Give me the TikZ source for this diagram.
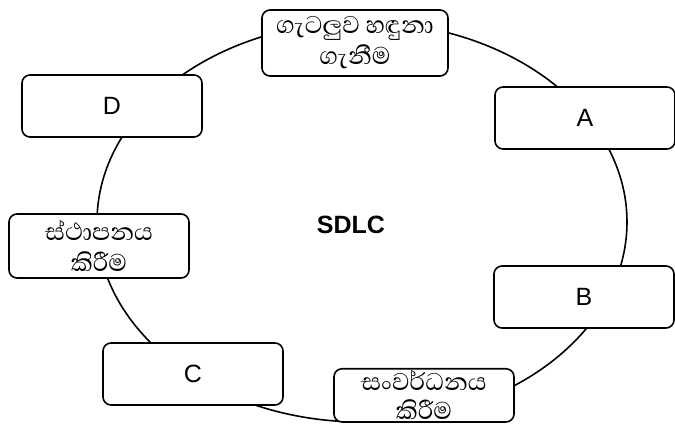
\documentclass[tikz,border=0pt]{standalone}
\usepackage{fontspec}
\usepackage{tikz}
\usetikzlibrary{calc}
\usetikzlibrary{positioning}
\setmainfont{Liberation Sans}
\newfontfamily\sinhala[Script=Sinhala]{Abhaya Libre}
\tikzset{
    phase/.style={draw=black, fill=white, line width=1.6pt, rounded corners=8pt,
                  minimum width=180pt, minimum height=62pt, align=center,
                  font=\fontsize{25}{25}\selectfont, inner sep=2pt},
    sphase/.style={phase, inner sep=0pt, font=\sinhala\fontsize{31}{31}\selectfont}
}

\begin{document}
\begin{tikzpicture}[x=1pt, y=-1pt]
            % Frame to ensure alignment:
            \useasboundingbox                                                 (0, 0) rectangle (675, 430);
            % Cycle
            \draw[line width=1.6pt]                                           (362, 222) ellipse [x radius=265pt, y radius=200pt];
            % Phases
            \node[sphase, minimum width=186pt, minimum height=66pt] (ident) at (355,  43) {ගැටලුව හඳුනා\\ගැනීම};
            \node[phase]                                            (A)     at (585, 118) {A};
            \node[phase]                                            (B)     at (584, 297) {B};
            \node[sphase, anchor=north, minimum height=0pt,
                  inner ysep=2pt, font=\sinhala\fontsize{31}{29}\selectfont]
                                                                    (devel) at (424, 368) {සංවර්ධනය\\කිරීම};
            \node[phase]                                            (C)     at (193, 374) {C};
            \node[sphase, minimum height=64pt]                      (inst)  at ( 99, 246) {ස්ථාපනය\\කිරීම};
            \node[phase]                                            (D)     at (112, 106) {D};
            % Title
            \node[font=\bfseries\fontsize{25}{25}\selectfont]       (sdlc)  at (351, 225) {SDLC};
\end{tikzpicture}
\end{document}
